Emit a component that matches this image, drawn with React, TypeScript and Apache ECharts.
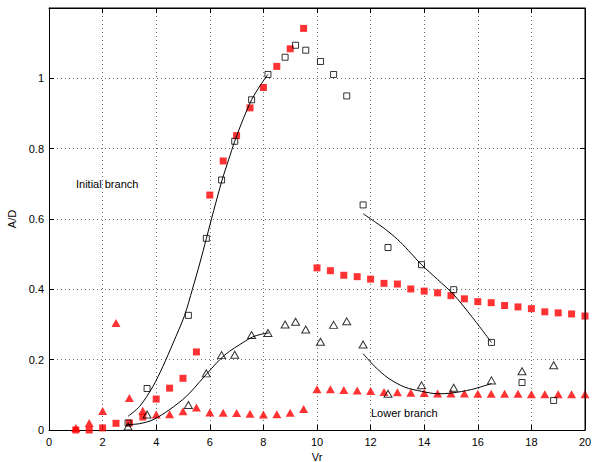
import React, { useEffect, useRef } from "react";
import * as echarts from "echarts";

// Red series sampled at regular Vr steps
const lowVr = [1, 1.5, 2, 2.5, 3, 3.5, 4, 4.5, 5, 5.5, 6, 6.5, 7, 7.5, 8, 8.5, 9, 9.5];
const highVr = [10, 10.5, 11, 11.5, 12, 12.5, 13, 13.5, 14, 14.5, 15, 15.5, 16, 16.5, 17, 17.5, 18, 18.5, 19, 19.5, 20];
const redSquareLow = [0, 0, 0.006, 0.019, 0.02, 0.037, 0.088, 0.119, 0.147, 0.222, 0.668, 0.765, 0.837, 0.916, 0.974, 1.034, 1.084, 1.142];
const redSquareHigh = [0.461, 0.453, 0.44, 0.436, 0.429, 0.417, 0.415, 0.401, 0.395, 0.39, 0.382, 0.373, 0.365, 0.362, 0.354, 0.35, 0.345, 0.336, 0.333, 0.33, 0.324];
const redTriangleLow = [0.006, 0.02, 0.054, 0.304, 0.091, 0.055, 0.044, 0.045, 0.053, 0.064, 0.05, 0.049, 0.048, 0.046, 0.044, 0.045, 0.049, 0.06];
const redTriangleHigh = [0.116, 0.116, 0.114, 0.112, 0.111, 0.108, 0.107, 0.106, 0.105, 0.104, 0.104, 0.104, 0.103, 0.103, 0.103, 0.103, 0.102, 0.102, 0.102, 0.102, 0.102];

// Black open markers
const blackVr = [2.95, 3.66, 5.2, 5.87, 6.44, 6.93, 7.56, 8.17, 8.81, 9.2, 9.58, 10.13, 10.62, 11.11, 11.72, 12.65, 13.9, 15.1, 16.51, 17.65, 18.83];
const blackSquare = [0.02, 0.118, 0.326, 0.545, 0.711, 0.821, 0.939, 1.011, 1.06, 1.094, 1.08, 1.048, 1.011, 0.95, 0.64, 0.519, 0.47, 0.399, 0.249, 0.135, 0.084];
const blackTriangle = [0.01, 0.044, 0.071, 0.161, 0.213, 0.214, 0.27, 0.276, 0.3, 0.308, 0.286, 0.251, 0.299, 0.309, 0.243, 0.103, 0.127, 0.12, 0.141, 0.167, 0.184];

// Fitted curves
const fitAx = [2.95, 3.38, 3.88, 4.25, 4.63, 5.06, 5.35, 5.63, 5.87, 6.15, 6.46, 6.7, 6.93, 7.25, 7.56, 7.9, 8.17];
const fitAy = [0.039, 0.067, 0.124, 0.181, 0.247, 0.326, 0.4, 0.475, 0.544, 0.625, 0.711, 0.768, 0.821, 0.885, 0.939, 0.982, 1.011];
const fitBx = [2.89, 3.38, 3.88, 4.5, 5.13, 5.75, 6.37, 6.74, 7.12, 7.58, 7.9, 8.2];
const fitBy = [0.015, 0.018, 0.029, 0.058, 0.096, 0.148, 0.2, 0.224, 0.243, 0.264, 0.272, 0.276];
const fitCx = [11.72, 12.2, 12.65, 13.1, 13.5, 13.9, 14.5, 15.1, 15.8, 16.51];
const fitCy = [0.615, 0.59, 0.565, 0.535, 0.503, 0.47, 0.428, 0.385, 0.32, 0.249];
const fitDx = [11.72, 12.15, 12.65, 13.27, 13.9, 14.51, 15.01, 15.76, 16.51];
const fitDy = [0.217, 0.181, 0.148, 0.122, 0.11, 0.103, 0.105, 0.115, 0.132];

const xTicks = [0, 2, 4, 6, 8, 10, 12, 14, 16, 18, 20];
const yTicks = [0, 0.2, 0.4, 0.6, 0.8, 1, 1.2];

const zip = (xs: number[], ys: number[]) => xs.map((x, i) => [x, ys[i]]);

const FONT = "'Liberation Sans', Arial, sans-serif";

export default function App() {
  const ref = useRef<HTMLDivElement>(null);
  useEffect(() => {
    if (!ref.current) return;
    document.body.style.margin = "0";
    const chart = echarts.init(ref.current, null, { renderer: "svg", width: 593, height: 462 });
    const grid = "#6e6e6e";
    const xMin = xTicks[0];
    const xMax = xTicks[xTicks.length - 1];
    const yMin = yTicks[0];
    const yMax = yTicks[yTicks.length - 1];
    const baseX = {
      type: "value" as const,
      min: xMin,
      max: xMax,
      interval: 2,
      axisLine: { show: true, onZero: false, lineStyle: { color: "#000", width: 1 } },
      axisTick: { show: true, inside: true, length: 5, lineStyle: { color: "#000" } },
    };
    const baseY = {
      type: "value" as const,
      min: yMin,
      max: yMax,
      interval: 0.2,
      axisLine: { show: true, onZero: false, lineStyle: { color: "#000", width: 1 } },
      axisTick: { show: true, inside: true, length: 5, lineStyle: { color: "#000" } },
    };
    const line = (xs: number[], ys: number[]) => ({
      type: "line",
      data: zip(xs, ys),
      showSymbol: false,
      symbol: "none",
      smooth: 0.3,
      lineStyle: { color: "#000", width: 1 },
      xAxisIndex: 0,
      yAxisIndex: 0,
      z: 3,
    });
    chart.setOption({
      animation: false,
      backgroundColor: "#fff",
      textStyle: { fontFamily: FONT },
      grid: { left: 49, right: 8, top: 8, bottom: 32, outerBoundsMode: "none", containLabel: false },
      xAxis: [
        {
          ...baseX,
          position: "bottom",
          name: "Vr",
          nameLocation: "middle",
          nameGap: 18,
          nameTextStyle: { fontSize: 11, color: "#000", fontFamily: FONT },
          axisLabel: { fontSize: 11, color: "#000", margin: 6, fontFamily: FONT },
          splitLine: { show: true, lineStyle: { color: grid, type: [1, 3], width: 1 } },
        },
        {
          ...baseX,
          position: "top",
          axisLabel: { show: false },
          splitLine: { show: false },
        },
      ],
      yAxis: [
        {
          ...baseY,
          position: "left",
          name: "A/D",
          nameLocation: "middle",
          nameGap: 30,
          nameRotate: 90,
          nameTextStyle: { fontSize: 11, color: "#000", fontFamily: FONT },
          axisLabel: {
            fontSize: 11,
            color: "#000",
            margin: 5,
            fontFamily: FONT,
            formatter: (v: number) => (Math.abs(v - 1.2) < 1e-6 ? "" : String(+v.toFixed(1))),
          },
          splitLine: { show: true, lineStyle: { color: grid, type: [1, 3], width: 1 } },
        },
        {
          ...baseY,
          position: "right",
          axisLabel: { show: false },
          splitLine: { show: false },
        },
      ],
      graphic: [
        {
          type: "text",
          left: 76,
          top: 178,
          style: { text: "Initial branch", fontSize: 11, fill: "#000", fontFamily: FONT },
        },
        {
          type: "text",
          left: 371,
          top: 407,
          style: { text: "Lower branch", fontSize: 11, fill: "#000", fontFamily: FONT },
        },
      ],
      series: [
        {
          type: "scatter",
          data: [...zip(lowVr, redSquareLow), ...zip(highVr, redSquareHigh)],
          symbol: "rect",
          symbolSize: 7,
          itemStyle: { color: "#ff0000" },
          z: 2,
        },
        {
          type: "scatter",
          data: [...zip(lowVr, redTriangleLow), ...zip(highVr, redTriangleHigh)],
          symbol: "triangle",
          symbolSize: [9, 8],
          itemStyle: { color: "#ff0000" },
          z: 2,
        },
        {
          type: "scatter",
          data: zip(blackVr, blackSquare),
          symbol: "rect",
          symbolSize: 6,
          itemStyle: { color: "rgba(0,0,0,0)", borderColor: "#000", borderWidth: 1 },
          z: 4,
        },
        {
          type: "scatter",
          data: zip(blackVr, blackTriangle),
          symbol: "triangle",
          symbolSize: [8, 7],
          itemStyle: { color: "rgba(0,0,0,0)", borderColor: "#000", borderWidth: 1 },
          z: 4,
        },
        line(fitAx, fitAy),
        line(fitBx, fitBy),
        line(fitCx, fitCy),
        line(fitDx, fitDy),
        {
          // top and right frame of the axes box
          type: "line",
          data: [
            [xMin, yMax],
            [xMax, yMax],
            [xMax, yMin],
          ],
          showSymbol: false,
          symbol: "none",
          clip: false,
          silent: true,
          lineStyle: { color: "#000", width: 1 },
          z: 6,
        },
      ],
    });
    return () => chart.dispose();
  }, []);
  return <div ref={ref} style={{ width: 593, height: 462, background: "#fff" }} />;
}
